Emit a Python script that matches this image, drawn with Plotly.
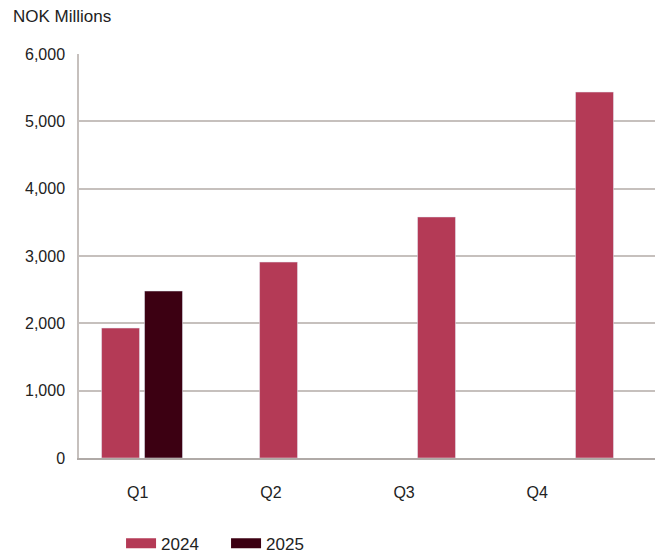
import plotly.graph_objects as go

quarters = ["Q1", "Q2", "Q3", "Q4"]
series_names = ["2024", "2025"]
values_2024 = [1930, 2910, 3580, 5435]
values_2025 = [2480, None, None, None]
y_ticks = [0, 1000, 2000, 3000, 4000, 5000, 6000]

c2024 = "#b43a56"
c2025 = "#3c0012"
grid = "#c6c0bd"
font = "Liberation Sans, Arial, sans-serif"

# the page body adds an 8px offset, so the figure is 8px smaller than the window
W, H = 656, 549

fig = go.Figure()
for name, vals, col in zip(series_names, [values_2024, values_2025], [c2024, c2025]):
    fig.add_trace(go.Bar(x=quarters, y=vals, name=name, marker_color=col,
                         hoverinfo="skip", showlegend=False))
# legend entries drawn as wide swatches
for name, col in zip(series_names, [c2024, c2025]):
    fig.add_trace(go.Scatter(x=[None], y=[None], name=name, mode="lines",
                             line=dict(color=col, width=15), hoverinfo="skip"))
# invisible trace carrying the category labels axis
fig.add_trace(go.Scatter(x=list(range(len(quarters))), y=[0] * len(quarters),
                         xaxis="x2", mode="markers", marker=dict(opacity=0),
                         showlegend=False, hoverinfo="skip"))

fig.update_layout(
    width=W, height=H,
    margin=dict(l=71, r=9, t=46, b=99, autoexpand=False),
    paper_bgcolor="white", plot_bgcolor="white",
    font=dict(family=font, size=16, color="#222222"),
    barmode="group", bargap=0.456, bargroupgap=0.116,
    title=dict(text="NOK Millions", x=5 / W, xanchor="left", xref="container",
               y=1 - 8.5 / H, yanchor="middle", yref="container",
               pad=dict(l=0, r=0, t=0, b=0),
               font=dict(size=17, color="#222222")),
    xaxis=dict(type="category", range=[-0.399, 3.247], showticklabels=False,
               showline=True, linecolor="#b0aaa7", linewidth=1.5, showgrid=False,
               ticks="", automargin=False),
    xaxis2=dict(overlaying="x", anchor="y", side="bottom", type="linear",
                range=[-0.441, 3.884], tickvals=list(range(len(quarters))),
                ticktext=quarters, showgrid=False, showline=False, zeroline=False,
                ticks="outside", ticklen=20, tickcolor="rgba(0,0,0,0)",
                automargin=False, tickfont=dict(size=16, color="#222222")),
    yaxis=dict(range=[0, 6000], tickvals=y_ticks, tickformat=",",
               showgrid=True, gridcolor=grid, gridwidth=1.5,
               showline=True, linecolor=grid, linewidth=1.5, zeroline=False,
               ticks="outside", ticklen=9, tickcolor="rgba(0,0,0,0)",
               automargin=False, tickfont=dict(size=16, color="#222222")),
    legend=dict(orientation="h", x=0.073, xanchor="left", y=-0.212, yanchor="middle",
                font=dict(size=17, color="#222222"), traceorder="normal",
                entrywidth=60, entrywidthmode="pixels"),
    showlegend=True,
)

fig.write_html("out.html")
